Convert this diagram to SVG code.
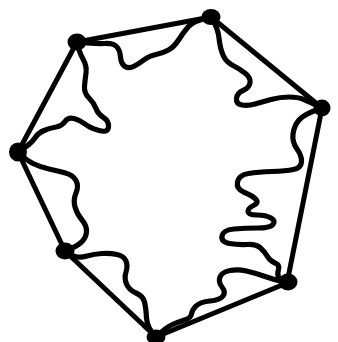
<svg xmlns="http://www.w3.org/2000/svg" width="338" height="342" viewBox="0 0 338 342">
<style>
.edge{fill:none;stroke:#000;stroke-width:5;stroke-linecap:round;stroke-linejoin:round}
.wave{fill:none;stroke:#000;stroke-width:5.2;stroke-linecap:round;stroke-linejoin:round}
.dot{fill:#000}
</style>
<rect width="338" height="342" fill="#fff"/>
<g id="connectors">
<polygon class="edge" points="77,42 211,17 322,108 287,283 156,337 65,251 18,152"/>
<path class="wave" d="M77,42 Q96,44 104.5,43.5 Q113,43 116.5,46.5 Q120,50 120.5,57 Q121,64 125,66.5 Q129,69 134.5,66 Q140,63 144.5,59.5 Q149,56 156,54.5 Q163,53 168.5,50 Q174,47 178.5,40 Q183,33 188,27 Q193,21 211,17"/>
<path class="wave" d="M211,17 Q218,28 219,38 Q220,48 223,55 Q226,62 233,65.5 Q240,69 245.5,73.5 Q251,78 250,83 Q249,88 243,90.5 Q237,93 236.5,98.5 Q236,104 242,105 Q248,106 255,104 Q262,102 271,99.5 Q280,97 289,97 Q298,97 304,99.5 Q310,102 322,108"/>
<path class="wave" d="M322,108 Q304,114 299,120 Q294,126 293,134 Q292,142 297,149 Q302,156 301.5,162 Q301,168 293.5,169.5 Q286,171 272,171.5 Q258,172 248.5,173.5 Q239,175 237.5,182 Q236,189 244.5,192.5 Q253,196 256,199.5 Q259,203 253.5,205.5 Q248,208 248,211.5 Q248,215 257,215 Q266,215 271,218 Q276,221 273,224.5 Q270,228 257.5,228 Q245,228 234,229 Q223,230 222,236 Q221,242 229.5,243.5 Q238,245 247,244.5 Q256,244 260.5,248 Q265,252 267.5,256.5 Q270,261 275,263 Q280,265 278.5,269.5 Q277,274 278.5,277 Q280,280 287,283"/>
<path class="wave" d="M287,283 Q272,279 263.5,276 Q255,273 246.5,271 Q238,269 230,270.5 Q222,272 220,277 Q218,282 222,287 Q226,292 223,296 Q220,300 210,301 Q200,302 196,306 Q192,310 191.5,314 Q191,318 184.5,320 Q178,322 171.5,325 Q165,328 156,337"/>
<path class="wave" d="M156,337 Q147,328 146.5,318 Q146,308 144.5,302 Q143,296 136,293 Q129,290 126.5,284 Q124,278 126,272 Q128,266 126,261 Q124,256 117,254.5 Q110,253 102,253.5 Q94,254 87,256 Q80,258 75,256.5 Q70,255 65,251"/>
<path class="wave" d="M65,251 Q76,247 81,242.5 Q86,238 86.5,232 Q87,226 82,220 Q77,214 75,207 Q73,200 76,193 Q79,186 76,180.5 Q73,175 65.5,173 Q58,171 49,169 Q40,167 33,163.5 Q26,160 18,152"/>
<path class="wave" d="M18,152 Q31,144 34.5,138.5 Q38,133 44,130.5 Q50,128 56,127 Q62,126 65,121.5 Q68,117 74,118.5 Q80,120 85,124 Q90,128 99,130.5 Q108,133 108.5,127 Q109,121 103.5,117.5 Q98,114 96,108.5 Q94,103 89,98 Q84,93 84.5,86.5 Q85,80 86,73 Q87,66 83,59 Q79,52 77,42"/>
</g>
<g id="v1"><ellipse class="dot" cx="77" cy="42" rx="9.5" ry="8.5"/></g>
<g id="v2"><ellipse class="dot" cx="211" cy="17" rx="9.5" ry="8"/></g>
<g id="v3"><ellipse class="dot" cx="322" cy="108" rx="8.5" ry="8.5"/></g>
<g id="v4"><ellipse class="dot" cx="288" cy="282" rx="9.5" ry="8.5"/></g>
<g id="v5"><ellipse class="dot" cx="156" cy="337" rx="9.5" ry="7.5"/></g>
<g id="v6"><ellipse class="dot" cx="65" cy="251" rx="9.5" ry="8.5"/></g>
<g id="v7"><ellipse class="dot" cx="18" cy="152" rx="9" ry="9.5"/></g>
</svg>
